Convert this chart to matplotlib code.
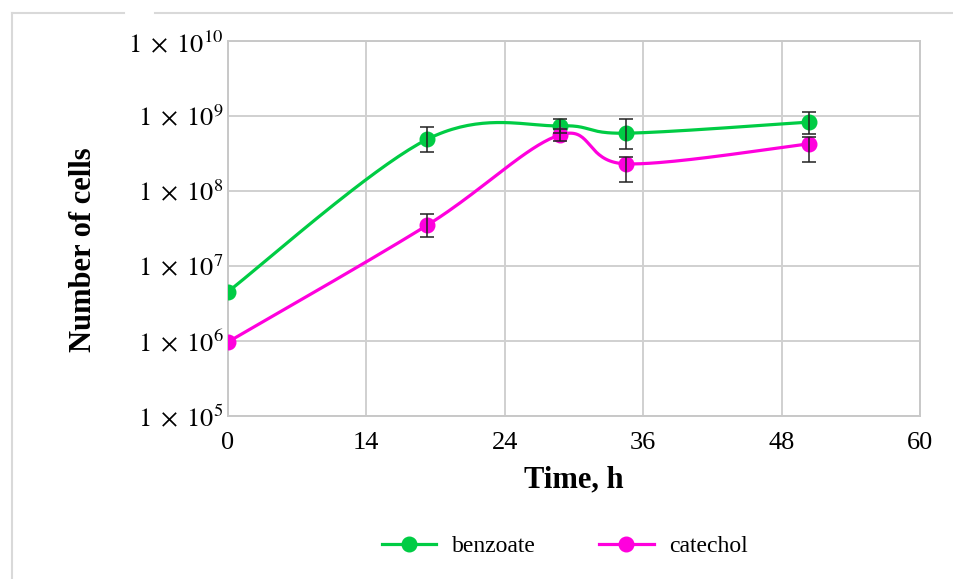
import numpy as np
import matplotlib.pyplot as plt
from matplotlib.lines import Line2D

# time points (h) and cell counts
time_h = [0, 17.3, 28.8, 34.5, 50.4]
benzoate = [4.5e6, 4.9e8, 7.4e8, 5.9e8, 8.3e8]
benzoate_lo = [4.5e6, 3.3e8, 5.9e8, 3.6e8, 5.8e8]
benzoate_hi = [4.5e6, 7.2e8, 9.1e8, 9.1e8, 1.13e9]
catechol = [9.6e5, 3.5e7, 5.6e8, 2.3e8, 4.25e8]
catechol_lo = [9.6e5, 2.4e7, 4.7e8, 1.3e8, 2.4e8]
catechol_hi = [9.6e5, 4.9e7, 6.7e8, 2.85e8, 5.3e8]

xticks = [0, 12, 24, 36, 48, 60]
xtick_labels = ['0', '14', '24', '36', '48', '60']
yticks = [1e5, 1e6, 1e7, 1e8, 1e9, 1e10]
ytick_labels = [r'$1\;\times\;10^{%d}$' % p for p in range(5, 11)]

GREEN = '#00cc44'
MAGENTA = '#ff00dd'


def smooth(x, y, n=40):
    # catmull-rom through points in (x, log y) space, like Excel's smoothed line
    px = np.asarray(x, float)
    py = np.log10(np.asarray(y, float))
    px = np.r_[px[0], px, px[-1]]
    py = np.r_[py[0], py, py[-1]]
    xs, ys = [], []
    t = np.linspace(0, 1, n)
    for i in range(1, len(px) - 2):
        p0, p3 = np.array([px[i], py[i]]), np.array([px[i + 1], py[i + 1]])
        c1 = p0 + (np.array([px[i + 1], py[i + 1]]) - np.array([px[i - 1], py[i - 1]])) / 6
        c2 = p3 - (np.array([px[i + 2], py[i + 2]]) - np.array([px[i], py[i]])) / 6
        b = ((1 - t) ** 3)[:, None] * p0 + (3 * (1 - t) ** 2 * t)[:, None] * c1 \
            + (3 * (1 - t) * t ** 2)[:, None] * c2 + (t ** 3)[:, None] * p3
        xs.extend(b[:, 0])
        ys.extend(b[:, 1])
    return np.array(xs), 10 ** np.array(ys)


plt.rcParams['font.family'] = ['Liberation Serif', 'DejaVu Serif']
plt.rcParams['mathtext.fontset'] = 'stix'

fig = plt.figure(figsize=(9.54, 5.79), dpi=100)
ax = fig.add_axes([0.2387, 0.282, 0.7257, 0.647])

for vals, lo, hi, col in [(benzoate, benzoate_lo, benzoate_hi, GREEN),
                          (catechol, catechol_lo, catechol_hi, MAGENTA)]:
    sx, sy = smooth(time_h, vals)
    ax.plot(sx, sy, color=col, lw=2.3, zorder=3, solid_capstyle='round')
    ax.plot(time_h, vals, 'o', color=col, ms=10.5, zorder=4)
    v = np.array(vals)
    err = [v - np.array(lo), np.array(hi) - v]
    ax.errorbar(time_h[1:], vals[1:], yerr=[err[0][1:], err[1][1:]], fmt='none',
                ecolor='#222222', elinewidth=1.1, capsize=5, capthick=1.1, zorder=5)

ax.set_yscale('log')
ax.set_xlim(0, 60)
ax.set_ylim(1e5, 1e10)
ax.set_xticks(xticks)
ax.set_xticklabels(xtick_labels)
ax.set_yticks(yticks)
ax.set_yticklabels(ytick_labels)
ax.yaxis.set_minor_locator(plt.NullLocator())
ax.tick_params(length=0, labelsize=19)
ax.tick_params(axis='x', pad=12)
ax.tick_params(axis='y', pad=3)
ax.grid(True, color='#d0d0d0', lw=1.4)
for s in ax.spines.values():
    s.set_color('#c8c8c8')
    s.set_linewidth(1.4)
ax.set_axisbelow(True)

ax.set_xlabel('Time, h', fontsize=22, fontweight='bold', labelpad=8)
ax.set_ylabel('Number of cells', fontsize=22, fontweight='bold')
ax.yaxis.set_label_coords(-0.187, 0.443)

handles = [Line2D([], [], color=GREEN, lw=2.3, marker='o', ms=10.5),
           Line2D([], [], color=MAGENTA, lw=2.3, marker='o', ms=10.5)]
fig.legend(handles, ['benzoate', 'catechol'], loc='center', bbox_to_anchor=(0.592, 0.056),
           ncol=2, frameon=False, fontsize=17, handlelength=2.3, handletextpad=0.65,
           columnspacing=2.7)

# partial outer frame
fc = '#d9d9d9'
fig.add_artist(Line2D([12 / 954, 124 / 954], [1 - 13 / 579] * 2, color=fc, lw=1.5))
fig.add_artist(Line2D([155 / 954, 1.0], [1 - 13 / 579] * 2, color=fc, lw=1.5))
fig.add_artist(Line2D([12 / 954] * 2, [1 - 13 / 579, 0], color=fc, lw=1.5))

fig.savefig('out.png', dpi=100)
